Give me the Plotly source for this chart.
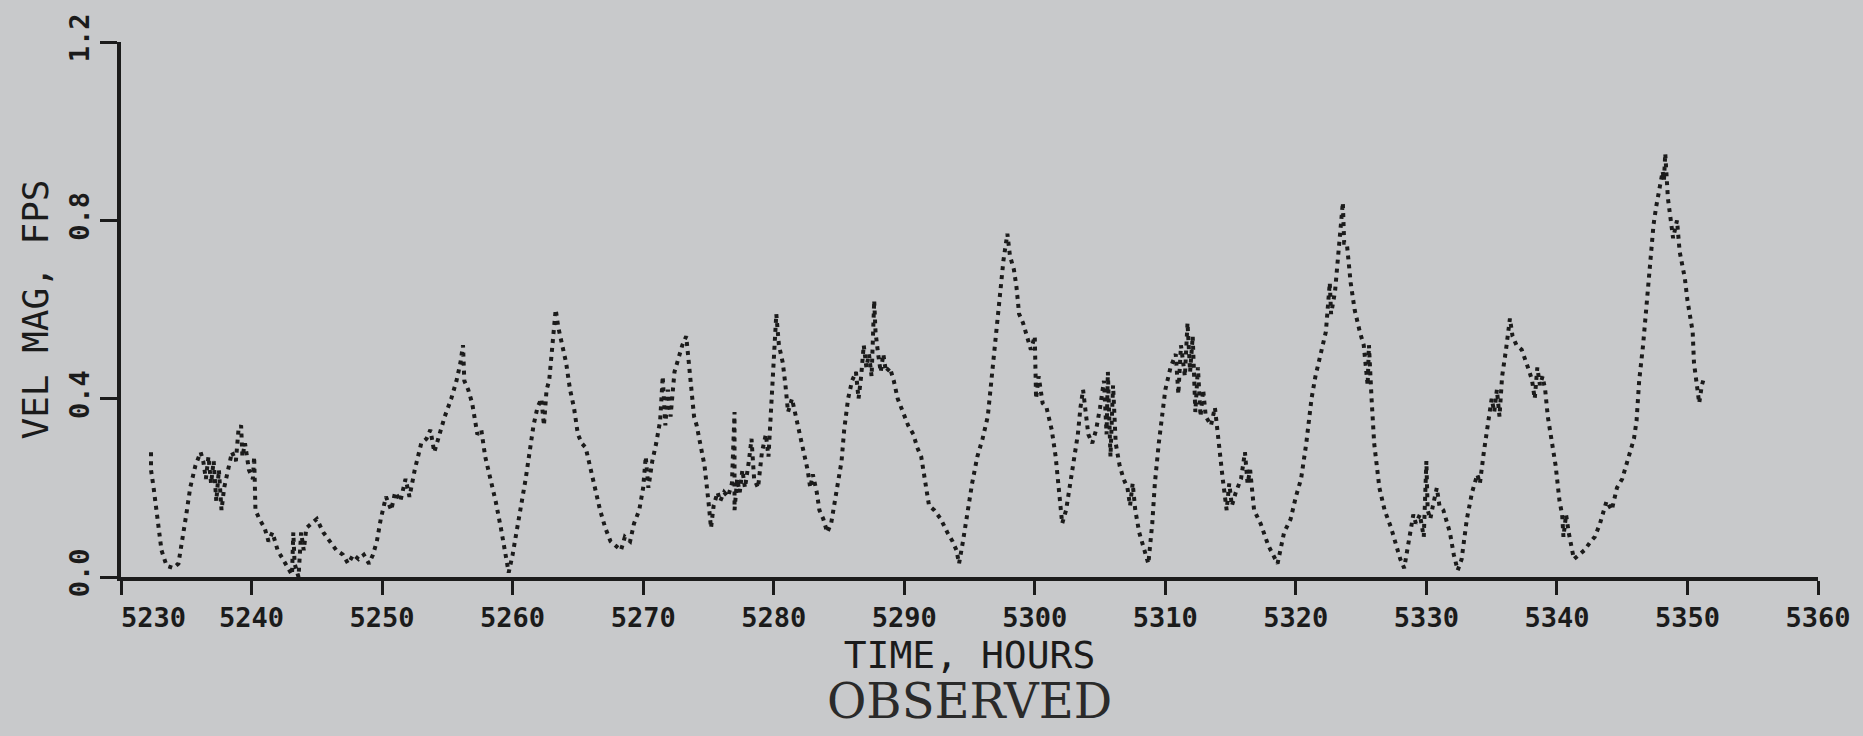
import plotly.graph_objects as go

# Observed velocity magnitude record (time in hours, speed in ft/s)
hours = [
    5232.3, 5232.3, 5232.5, 5232.8, 5233.1, 5233.5, 5234.0, 5234.4, 5234.7, 5235.0,
    5235.3, 5235.7, 5236.1, 5236.3, 5236.5, 5236.7, 5236.9, 5237.1, 5237.3, 5237.5,
    5237.7, 5237.9, 5238.2, 5238.5, 5238.8, 5239.0, 5239.2, 5239.3, 5239.5, 5239.8,
    5240.1, 5240.2, 5240.3, 5240.6, 5241.0, 5241.3, 5241.6, 5242.0, 5242.4, 5242.8,
    5243.1, 5243.2, 5243.3, 5243.6, 5243.8, 5244.0, 5244.2, 5244.6, 5245.0, 5245.5,
    5246.0, 5246.5, 5247.0, 5247.4, 5247.8, 5248.2, 5248.6, 5249.0, 5249.3, 5249.6,
    5249.9, 5250.3, 5250.7, 5251.0, 5251.4, 5251.8, 5252.1, 5252.5, 5253.0, 5253.4,
    5253.7, 5254.0, 5254.4, 5254.8, 5255.3, 5255.7, 5256.0, 5256.2, 5256.3, 5256.6,
    5256.9, 5257.1, 5257.3, 5257.6, 5257.9, 5258.3, 5258.7, 5259.1, 5259.4, 5259.7,
    5260.0, 5260.3, 5260.6, 5260.8, 5261.0, 5261.3, 5261.6, 5261.9, 5262.2, 5262.4,
    5262.6, 5262.8, 5263.0, 5263.3, 5263.5, 5263.8, 5264.1, 5264.4, 5264.7, 5265.0,
    5265.3, 5265.6, 5265.9, 5266.3, 5266.7, 5267.1, 5267.5, 5267.9, 5268.3, 5268.6,
    5269.0, 5269.3, 5269.7, 5270.0, 5270.2, 5270.4, 5270.7, 5271.0, 5271.3, 5271.5,
    5271.7, 5271.9, 5272.1, 5272.4, 5272.7, 5273.0, 5273.3, 5273.5, 5273.7, 5273.9,
    5274.1, 5274.4, 5274.7, 5275.0, 5275.2, 5275.4, 5275.7, 5275.9, 5276.2, 5276.5,
    5276.8, 5277.0, 5277.0, 5277.2, 5277.4, 5277.6, 5277.8, 5278.1, 5278.3, 5278.5,
    5278.8, 5279.1, 5279.4, 5279.6, 5279.8, 5280.0, 5280.2, 5280.4, 5280.7, 5280.9,
    5281.1, 5281.4, 5281.7, 5282.0, 5282.3, 5282.6, 5282.8, 5283.0, 5283.3, 5283.5,
    5283.8, 5284.1, 5284.4, 5284.7, 5284.9, 5285.2, 5285.4, 5285.7, 5286.0, 5286.3,
    5286.5, 5286.7, 5286.9, 5287.1, 5287.3, 5287.5, 5287.7, 5287.8, 5288.0, 5288.2,
    5288.4, 5288.6, 5288.9, 5289.2, 5289.5, 5289.9, 5290.3, 5290.7, 5291.0, 5291.3,
    5291.6, 5291.9, 5292.3, 5292.8, 5293.3, 5293.7, 5294.0, 5294.2, 5294.5, 5294.8,
    5295.2, 5295.6, 5296.0, 5296.4, 5296.7, 5297.0, 5297.3, 5297.6, 5297.9, 5298.1,
    5298.4, 5298.6, 5298.8, 5299.1, 5299.4, 5299.7, 5300.0, 5300.1, 5300.3, 5300.6,
    5300.9, 5301.3, 5301.6, 5301.9, 5302.1, 5302.4, 5302.7, 5303.0, 5303.3, 5303.5,
    5303.7, 5303.9, 5304.1, 5304.4, 5304.7, 5305.0, 5305.3, 5305.5, 5305.6, 5305.8,
    5306.0, 5306.2, 5306.5, 5306.8, 5307.1, 5307.3, 5307.5, 5307.7, 5308.0, 5308.4,
    5308.7, 5309.0, 5309.2, 5309.5, 5309.8, 5310.0, 5310.4, 5310.8, 5311.0, 5311.2,
    5311.5, 5311.7, 5311.9, 5312.1, 5312.3, 5312.5, 5312.7, 5312.9, 5313.1, 5313.5,
    5313.8, 5314.1, 5314.4, 5314.7, 5314.9, 5315.1, 5315.4, 5315.8, 5316.1, 5316.3,
    5316.5, 5316.8, 5317.3, 5317.9, 5318.6, 5319.1, 5319.6, 5320.0, 5320.4, 5320.8,
    5321.2, 5321.5, 5321.9, 5322.3, 5322.6, 5322.7, 5323.0, 5323.3, 5323.6, 5323.7,
    5323.9, 5324.2, 5324.5, 5324.9, 5325.2, 5325.5, 5325.6, 5325.8, 5326.0, 5326.4,
    5326.8, 5327.3, 5327.7, 5328.0, 5328.3, 5328.6, 5328.8, 5329.0, 5329.2, 5329.5,
    5329.8, 5330.0, 5330.1, 5330.3, 5330.5, 5330.8, 5331.0, 5331.3, 5331.8, 5332.1,
    5332.4, 5332.7, 5333.1, 5333.5, 5333.9, 5334.1, 5334.4, 5334.8, 5335.0, 5335.2,
    5335.4, 5335.6, 5335.8, 5336.1, 5336.4, 5336.6, 5336.9, 5337.3, 5337.7, 5337.9,
    5338.1, 5338.3, 5338.5, 5338.7, 5338.9, 5339.1, 5339.3, 5339.6, 5339.9, 5340.2,
    5340.4, 5340.5, 5340.7, 5340.9, 5341.3, 5341.7, 5342.1, 5342.6, 5342.9, 5343.3,
    5343.8, 5344.2, 5344.6, 5345.0, 5345.5, 5345.9, 5346.1, 5346.3, 5346.6, 5346.8,
    5347.0, 5347.2, 5347.4, 5347.6, 5347.9, 5348.1, 5348.2, 5348.3, 5348.5, 5348.7,
    5348.9, 5349.2, 5349.4, 5349.6, 5349.8, 5350.0, 5350.2, 5350.4, 5350.5, 5350.7,
    5350.9, 5351.1, 5351.3,
]

vel_fps = [
    0.28, 0.24, 0.20, 0.12, 0.06, 0.025, 0.02, 0.03, 0.08, 0.14,
    0.20, 0.25, 0.28, 0.26, 0.22, 0.27, 0.21, 0.26, 0.17, 0.24,
    0.15, 0.20, 0.24, 0.28, 0.26, 0.33, 0.34, 0.27, 0.30, 0.24,
    0.22, 0.27, 0.15, 0.13, 0.11, 0.08, 0.10, 0.06, 0.04, 0.02,
    0.005, 0.10, 0.03, 0.00, 0.10, 0.06, 0.11, 0.12, 0.13, 0.10,
    0.08, 0.06, 0.05, 0.03, 0.05, 0.04, 0.05, 0.03, 0.05, 0.08,
    0.13, 0.18, 0.15, 0.19, 0.17, 0.22, 0.18, 0.24, 0.30, 0.31,
    0.33, 0.28, 0.32, 0.36, 0.40, 0.44, 0.48, 0.52, 0.44, 0.42,
    0.39, 0.35, 0.32, 0.33, 0.27, 0.22, 0.17, 0.11, 0.06, 0.01,
    0.05, 0.10, 0.15, 0.18, 0.22, 0.28, 0.34, 0.38, 0.40, 0.34,
    0.42, 0.44, 0.50, 0.60, 0.56, 0.52, 0.48, 0.42, 0.38, 0.32,
    0.30, 0.29, 0.25, 0.20, 0.15, 0.11, 0.08, 0.07, 0.06, 0.09,
    0.08, 0.12, 0.15, 0.20, 0.27, 0.20, 0.26, 0.30, 0.35, 0.45,
    0.34, 0.42, 0.36, 0.46, 0.49, 0.52, 0.54, 0.48, 0.42, 0.36,
    0.34, 0.30, 0.25, 0.17, 0.11, 0.16, 0.19, 0.17, 0.19, 0.18,
    0.21, 0.37, 0.15, 0.22, 0.19, 0.24, 0.20, 0.26, 0.31, 0.22,
    0.20, 0.28, 0.32, 0.27, 0.38, 0.50, 0.59, 0.52, 0.48, 0.43,
    0.37, 0.40, 0.36, 0.32, 0.28, 0.24, 0.20, 0.23, 0.19, 0.15,
    0.13, 0.10, 0.12, 0.17, 0.21, 0.26, 0.33, 0.40, 0.44, 0.46,
    0.40, 0.45, 0.52, 0.47, 0.50, 0.45, 0.62, 0.55, 0.50, 0.46,
    0.50, 0.46, 0.47, 0.44, 0.40, 0.37, 0.34, 0.32, 0.29, 0.27,
    0.22, 0.16, 0.15, 0.13, 0.10, 0.08, 0.06, 0.03, 0.08, 0.14,
    0.21, 0.27, 0.31, 0.36, 0.45, 0.53, 0.62, 0.71, 0.77, 0.72,
    0.69, 0.65, 0.59, 0.57, 0.54, 0.51, 0.54, 0.40, 0.45, 0.39,
    0.38, 0.33, 0.27, 0.18, 0.12, 0.15, 0.21, 0.26, 0.32, 0.38,
    0.42, 0.37, 0.32, 0.30, 0.33, 0.38, 0.44, 0.32, 0.46, 0.27,
    0.43, 0.30, 0.25, 0.22, 0.20, 0.16, 0.21, 0.15, 0.10, 0.06,
    0.03, 0.12, 0.21, 0.30, 0.37, 0.42, 0.47, 0.50, 0.41, 0.52,
    0.45, 0.57, 0.46, 0.54, 0.37, 0.47, 0.36, 0.42, 0.36, 0.34,
    0.38, 0.29, 0.22, 0.15, 0.21, 0.16, 0.19, 0.22, 0.28, 0.21,
    0.24, 0.15, 0.12, 0.07, 0.03, 0.10, 0.13, 0.18, 0.22, 0.30,
    0.40, 0.45, 0.50, 0.55, 0.66, 0.59, 0.64, 0.73, 0.84, 0.75,
    0.75, 0.66, 0.60, 0.55, 0.52, 0.43, 0.52, 0.40, 0.30, 0.20,
    0.15, 0.11, 0.07, 0.04, 0.02, 0.07, 0.10, 0.14, 0.12, 0.14,
    0.09, 0.26, 0.15, 0.13, 0.16, 0.20, 0.16, 0.15, 0.10, 0.05,
    0.015, 0.04, 0.13, 0.19, 0.23, 0.21, 0.28, 0.36, 0.40, 0.37,
    0.42, 0.36, 0.45, 0.51, 0.58, 0.54, 0.52, 0.51, 0.48, 0.46,
    0.44, 0.40, 0.47, 0.43, 0.45, 0.42, 0.36, 0.30, 0.25, 0.17,
    0.14, 0.09, 0.14, 0.10, 0.04, 0.05, 0.06, 0.08, 0.09, 0.12,
    0.17, 0.15, 0.20, 0.22, 0.27, 0.31, 0.35, 0.44, 0.52, 0.59,
    0.67, 0.74, 0.79, 0.83, 0.875, 0.91, 0.89, 0.95, 0.85, 0.80,
    0.76, 0.80, 0.73, 0.70, 0.67, 0.62, 0.59, 0.55, 0.48, 0.43,
    0.39, 0.43, 0.45,
]

x_ticks = [5230, 5240, 5250, 5260, 5270, 5280, 5290, 5300, 5310, 5320, 5330, 5340, 5350, 5360]
x_tick_text = ["\u00a0\u00a0\u00a0\u00a05230"] + [str(v) for v in x_ticks[1:]]
y_ticks = [0.0, 0.4, 0.8, 1.2]
y_tick_text = ["0.0", "0.4", "0.8", "1.2"]

INK = "#1b1b1b"
PAPER = "#c8c9cb"

fig = go.Figure()
fig.add_trace(go.Scatter(
    x=hours,
    y=vel_fps,
    mode="lines",
    line=dict(color=INK, width=4, dash="4px,5px"),
    hoverinfo="x+y",
    showlegend=False,
))

tick_font = dict(family="DejaVu Sans Mono", size=27, color=INK, weight="bold")

fig.update_layout(
    width=1863,
    height=736,
    autosize=False,
    margin=dict(l=121, r=41, t=42, b=159),
    paper_bgcolor=PAPER,
    plot_bgcolor=PAPER,
    xaxis=dict(
        range=[5230, 5360],
        tickvals=x_ticks,
        ticktext=x_tick_text,
        ticks="outside",
        ticklen=14,
        tickwidth=3,
        tickcolor=INK,
        showline=True,
        linewidth=4,
        linecolor=INK,
        showgrid=False,
        zeroline=False,
        tickfont=tick_font,
        title=dict(
            text="TIME, HOURS",
            font=dict(family="DejaVu Sans Mono", size=38, color=INK),
            standoff=0,
        ),
    ),
    yaxis=dict(
        range=[0, 1.2],
        tickvals=y_ticks,
        ticktext=y_tick_text,
        tickangle=-90,
        ticks="outside",
        ticklen=17,
        tickwidth=3,
        tickcolor=INK,
        showline=True,
        linewidth=4,
        linecolor=INK,
        showgrid=False,
        zeroline=False,
        tickfont=tick_font,
        title=dict(
            text="VEL MAG, FPS",
            font=dict(family="DejaVu Sans Mono", size=36, color=INK),
            standoff=6,
        ),
    ),
    annotations=[
        dict(
            text="OBSERVED",
            xref="paper",
            yref="paper",
            x=0.5,
            y=-0.232,
            xanchor="center",
            yanchor="middle",
            showarrow=False,
            font=dict(family="DejaVu Serif", size=48, color="#2a2a2a"),
        )
    ],
)

fig.write_html("out.html")
